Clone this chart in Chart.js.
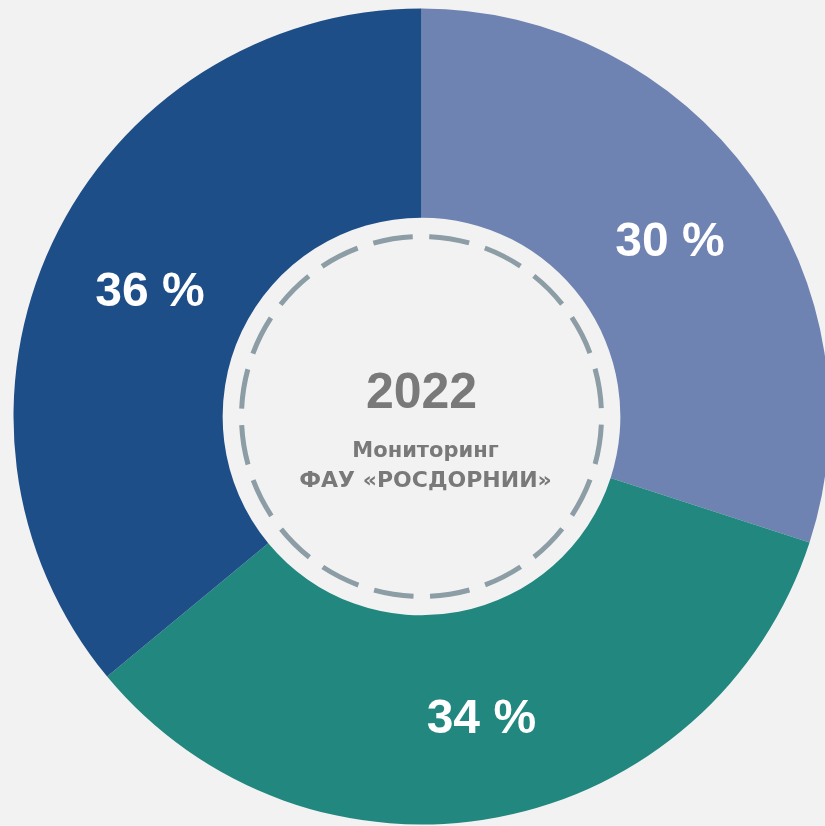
<!DOCTYPE html>
<html>
<head>
<meta charset="utf-8">
<script src="https://cdn.jsdelivr.net/npm/chart.js@4"></script>
<style>
    html, body { margin: 0; padding: 0; background: #f2f2f2; overflow: hidden; }
    #wrap { position: absolute; left: 0; top: 0; width: 843px; height: 833px; }
</style>
</head>
<body>
<div id="wrap"><canvas id="donutChart" width="843" height="833"></canvas></div>
<script>
    var categories = ['Сегмент 1', 'Сегмент 2', 'Сегмент 3'];
    var shares = [30, 34, 36];
    var sliceColors = ['#6f83b2', '#21877f', '#1e4e88'];
    var centerYear = '2022';
    var centerLines = ['Мониторинг', 'ФАУ «РОСДОРНИИ»'];

    var numFont = '"Liberation Sans", Arial, sans-serif';
    var textFont = '"DejaVu Sans", "Noto Sans", sans-serif';

    // dashed ring and captions in the hole
    var centerPlugin = {
        id: 'centerText',
        afterDatasetsDraw: function (chart) {
            var ctx = chart.ctx;
            var arc = chart.getDatasetMeta(0).data[0];
            var cx = arc.x, cy = arc.y;
            var r = 180, gap = 16.5;
            ctx.save();
            ctx.strokeStyle = '#8c9da5';
            ctx.lineWidth = 5;
            ctx.setLineDash([40, gap]);
            ctx.beginPath();
            var start = -Math.PI / 2 + (gap / 2) / r;
            ctx.arc(cx, cy, r, start, start + Math.PI * 2);
            ctx.stroke();
            ctx.setLineDash([]);

            ctx.fillStyle = '#797979';
            ctx.textAlign = 'center';
            ctx.textBaseline = 'alphabetic';
            ctx.font = 'bold 50px ' + numFont;
            ctx.fillText(centerYear, cx, cy - 9);
            ctx.font = 'bold 21px ' + textFont;
            ctx.fillText(centerLines[0], cx + 4, cy + 40);
            ctx.font = 'bold 22px ' + textFont;
            ctx.fillText(centerLines[1], cx + 4, cy + 70);

            // percentage labels on the slices
            ctx.fillStyle = '#ffffff';
            ctx.font = 'bold 48px ' + numFont;
            ctx.textBaseline = 'middle';
            chart.getDatasetMeta(0).data.forEach(function (el, i) {
                var p = el.tooltipPosition();
                ctx.fillText(shares[i] + ' %', p.x + 3, p.y + 5);
            });
            ctx.restore();
        }
    };

    document.addEventListener('DOMContentLoaded', function () {
        var ctxDonut = document.getElementById('donutChart').getContext('2d');
        var donutChart = new Chart(ctxDonut, {
            type: 'doughnut',
            data: {
                labels: categories,
                datasets: [{
                    data: shares,
                    backgroundColor: sliceColors,
                    borderWidth: 0,
                    hoverOffset: 0
                }]
            },
            options: {
                responsive: false,
                animation: false,
                radius: 408,
                cutout: 203,
                layout: { padding: 0 },
                plugins: {
                    legend: { display: false },
                    tooltip: { enabled: false }
                }
            },
            plugins: [centerPlugin]
        });
    });
</script>
</body>
</html>
